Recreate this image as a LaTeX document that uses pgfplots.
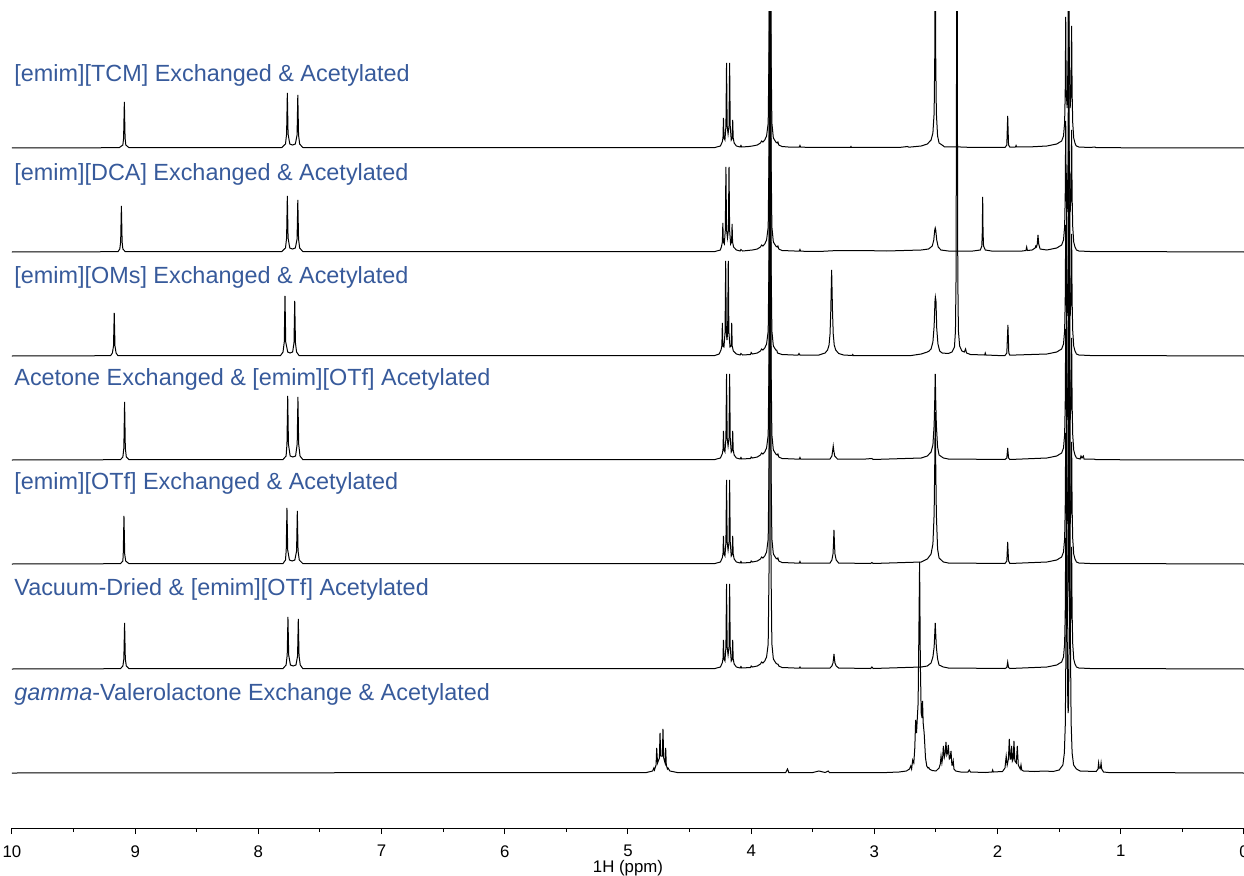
\documentclass[border=0pt]{standalone}
\usepackage{fontspec}
\setmainfont{Liberation Sans}
\usepackage{pgfplots}
\usepackage{pgfplotstable}
\pgfplotsset{compat=1.18}
\definecolor{labelblue}{RGB}{55,90,155}

% relative peak heights in px above each baseline
\pgfplotstableread{
x y
10.0 0
9.13 0.3
9.10 3
9.094 10
9.088 46
9.082 10
9.076 3
9.05 0.3
7.81 0.5
7.78 4
7.771 14
7.765 55
7.759 14
7.745 4
7.723 3
7.700 4
7.686 13
7.680 53
7.674 13
7.665 4
7.64 0.5
4.30 0.3
4.25 2
4.235 6
4.229 10
4.225 30
4.221 10
4.213 8
4.205 22
4.200 85
4.195 22
4.1875 14
4.180 22
4.175 85
4.170 22
4.162 8
4.154 10
4.150 28
4.146 10
4.138 5
4.12 2
4.09 1
4.083 2.5
4.076 1
4.02 1.5
3.99 2
3.95 3
3.925 5
3.915 7
3.905 6
3.89 8
3.875 12
3.862 25
3.855 100
3.851 400
3.847 1200
3.843 400
3.839 100
3.832 25
3.82 10
3.80 6
3.79 5
3.783 6
3.776 3
3.75 1.5
3.70 1
3.61 0.8
3.604 2.5
3.598 0.8
3.40 0.5
3.195 0.5
3.19 1.5
3.185 0.5
2.80 0.5
2.73 1.5
2.72 0.8
2.62 2
2.57 4
2.54 8
2.525 15
2.515 35
2.510 90
2.506 400
2.502 90
2.497 35
2.487 12
2.475 5
2.445 2.5
2.43 1
2.30 1
2.20 0.5
1.94 0.5
1.925 3
1.918 32
1.911 3
1.90 0.8
1.855 1
1.85 2.5
1.845 1
1.75 1
1.60 2
1.52 4
1.48 7
1.465 12
1.456 25
1.451 55
1.447 131
1.443 55
1.435 40
1.428 90
1.423 250
1.418 90
1.411 40
1.404 55
1.399 122
1.395 55
1.390 25
1.382 10
1.372 5
1.366 3
1.36 2
1.34 1
1.25 0.5
1.21 1
1.20 0.3
0 0
}\tcm

\pgfplotstableread{
x y
10.0 0
9.14 0.3
9.125 3
9.118 10
9.112 46
9.106 10
9.10 3
9.08 0.3
7.81 0.5
7.78 4
7.771 14
7.765 56
7.759 14
7.745 4
7.723 3
7.700 4
7.686 13
7.680 52
7.674 13
7.665 4
7.64 0.5
4.30 0.3
4.25 2
4.24 6
4.234 10
4.230 29
4.226 10
4.218 8
4.210 22
4.205 85
4.200 22
4.1925 14
4.185 22
4.180 85
4.175 22
4.167 8
4.159 10
4.155 28
4.151 10
4.143 5
4.12 2
4.09 1
4.083 2.5
4.07 1
3.99 2
3.95 3
3.925 5
3.915 7
3.905 6
3.89 8
3.875 12
3.862 25
3.855 100
3.851 400
3.847 1200
3.843 400
3.839 100
3.832 25
3.82 10
3.80 6
3.79 5
3.783 6
3.776 3
3.75 1.5
3.61 0.8
3.604 2.5
3.598 0.8
3.45 0.5
3.30 1.5
3.10 1.5
2.90 1
2.62 2
2.56 3
2.53 6
2.518 12
2.510 22
2.506 24
2.502 22
2.494 12
2.482 5
2.46 2
2.40 1
2.20 1
2.14 2
2.128 6
2.124 20
2.121 55
2.118 20
2.114 6
2.10 2
2.05 1
1.80 1
1.770 1.5
1.764 5
1.758 1.5
1.72 2
1.695 4
1.690 6
1.684 5
1.678 8
1.672 17
1.666 8
1.655 3
1.60 2
1.52 4
1.48 7
1.465 12
1.456 25
1.451 55
1.447 131
1.443 55
1.435 40
1.428 90
1.423 250
1.418 90
1.411 40
1.404 55
1.399 122
1.395 55
1.390 25
1.382 10
1.372 5
1.36 2
1.34 1
1.25 0.5
0 0
}\dca

\pgfplotstableread{
x y
10.0 0
9.20 0.3
9.185 3
9.176 10
9.170 43
9.164 10
9.155 3
9.14 0.3
7.82 0.5
7.80 4
7.790 14
7.784 60
7.778 14
7.762 4
7.743 3
7.722 4
7.711 13
7.705 55
7.699 13
7.690 4
7.67 0.5
4.30 0.3
4.26 2
4.245 6
4.238 10
4.234 33
4.230 10
4.221 9
4.212 24
4.207 95
4.202 24
4.1965 16
4.191 24
4.186 95
4.181 24
4.172 9
4.162 10
4.158 33
4.154 10
4.145 5
4.12 2
4.09 1
4.083 2.5
4.07 1
4.005 1.5
4.00 3.5
3.99 2
3.95 3
3.925 5
3.915 7
3.905 6
3.89 8
3.875 12
3.862 25
3.855 100
3.851 400
3.847 1200
3.843 400
3.839 100
3.832 25
3.82 10
3.80 6
3.793 6
3.786 3
3.75 1.5
3.62 0.8
3.612 2.5
3.604 0.8
3.45 1
3.40 3
3.38 6
3.368 11
3.360 22
3.354 45
3.347 86
3.340 45
3.334 22
3.326 11
3.314 6
3.29 2.5
3.25 1
3.18 0.5
3.176 1.5
3.17 0.5
2.70 0.5
2.62 2
2.57 4
2.555 5
2.549 6
2.54 7
2.525 14
2.515 30
2.508 55
2.505 59
2.500 55
2.494 28
2.484 12
2.47 5
2.45 3
2.40 2.5
2.37 4
2.35 9
2.342 25
2.337 80
2.333 300
2.330 800
2.327 300
2.323 80
2.318 25
2.308 10
2.29 5
2.27 4
2.260 7
2.252 3
2.22 1.5
2.105 1
2.10 3
2.095 1
2.00 0.5
1.94 0.5
1.925 3
1.916 31
1.909 3
1.90 0.8
1.60 2
1.52 4
1.48 7
1.465 12
1.456 25
1.451 55
1.447 131
1.443 55
1.435 40
1.428 90
1.423 250
1.418 90
1.411 40
1.404 55
1.399 122
1.395 55
1.390 25
1.382 10
1.372 5
1.36 2
1.34 1
1.25 0.5
0 0
}\oms

\pgfplotstableread{
x y
10.0 0
9.12 0.3
9.10 3
9.092 12
9.086 58
9.080 12
9.072 3
9.05 0.3
7.80 0.5
7.775 4
7.768 16
7.762 64
7.756 16
7.742 4
7.720 3
7.698 4
7.685 16
7.679 63
7.673 16
7.662 4
7.64 0.5
4.30 0.3
4.25 2
4.235 6
4.229 10
4.225 29
4.221 10
4.213 8
4.205 22
4.200 86
4.195 22
4.1875 14
4.180 22
4.175 86
4.170 22
4.162 8
4.154 10
4.150 29
4.146 10
4.138 5
4.12 2
4.09 1
4.083 2.5
4.076 1
4.005 1.5
4.00 3
3.99 2
3.95 3
3.925 5
3.915 7
3.905 6
3.89 8
3.875 12
3.862 25
3.855 100
3.851 400
3.847 1200
3.843 400
3.839 100
3.832 25
3.82 10
3.80 6
3.79 5
3.783 6
3.776 3
3.75 1.5
3.61 0.8
3.604 2.5
3.598 0.8
3.36 1
3.345 4
3.339 9
3.334 14
3.329 9
3.322 4
3.30 1
3.07 1
3.02 1.5
3.01 0.5
2.62 2
2.57 4
2.54 8
2.525 15
2.515 35
2.510 60
2.506 86
2.502 60
2.497 35
2.487 13
2.475 5
2.44 2
2.40 1
1.94 0.5
1.925 2
1.918 12
1.911 2
1.90 0.5
1.60 2
1.52 4
1.48 7
1.465 12
1.456 25
1.451 55
1.447 131
1.443 55
1.435 40
1.428 90
1.423 250
1.418 90
1.411 40
1.404 55
1.399 122
1.395 55
1.390 25
1.382 10
1.372 5
1.36 2
1.33 1
1.323 4
1.315 2
1.304 4
1.298 1
1.22 1
1.20 0.3
0 0
}\ace

\pgfplotstableread{
x y
10.0 0
9.12 0.3
9.10 3
9.097 10
9.091 48
9.085 10
9.077 3
9.05 0.3
7.80 0.5
7.78 4
7.774 14
7.768 56
7.762 14
7.748 4
7.726 3
7.704 4
7.690 13
7.684 53
7.678 13
7.668 4
7.64 0.5
4.30 0.3
4.25 2
4.235 6
4.229 10
4.225 28
4.221 10
4.213 8
4.205 22
4.200 84
4.195 22
4.1875 14
4.180 22
4.175 84
4.170 22
4.162 8
4.154 10
4.150 28
4.146 10
4.138 5
4.12 2
4.09 1
4.083 2.5
4.076 1
4.005 1.5
4.00 3
3.99 2
3.95 3
3.925 5
3.915 7
3.905 6
3.89 8
3.875 12
3.862 25
3.855 100
3.851 400
3.847 1200
3.843 400
3.839 100
3.832 25
3.82 10
3.80 6
3.79 5
3.783 6
3.776 3
3.75 1.5
3.61 0.8
3.604 2.5
3.598 0.8
3.36 1
3.345 4
3.336 10
3.332 20
3.328 34
3.324 20
3.320 10
3.31 4
3.29 1
3.03 0.5
3.02 1.5
3.01 0.5
2.62 2
2.57 5
2.54 10
2.525 20
2.515 50
2.510 100
2.506 152
2.502 100
2.497 50
2.487 15
2.475 6
2.44 2
2.40 1
1.94 0.5
1.925 3
1.918 22
1.911 3
1.90 0.5
1.60 2
1.52 4
1.48 7
1.465 12
1.456 25
1.451 55
1.447 131
1.443 55
1.435 40
1.428 90
1.423 250
1.418 90
1.411 40
1.404 55
1.399 122
1.395 55
1.390 25
1.382 10
1.372 5
1.36 2
1.34 1
1.25 0.5
0 0
}\otf

\pgfplotstableread{
x y
10.0 0
9.12 0.3
9.10 3
9.092 10
9.086 46
9.080 10
9.072 3
9.05 0.3
7.80 0.5
7.775 4
7.766 14
7.760 52
7.754 14
7.740 4
7.718 3
7.695 4
7.682 13
7.676 50
7.670 13
7.660 4
7.64 0.5
4.30 0.3
4.25 2
4.235 6
4.229 10
4.225 29
4.221 10
4.213 8
4.205 22
4.200 85
4.195 22
4.1875 14
4.180 22
4.175 85
4.170 22
4.162 8
4.154 10
4.150 29
4.146 10
4.138 5
4.12 2
4.09 1
4.083 2.5
4.076 1
4.005 1.5
4.00 3
3.99 2
3.95 3
3.925 5
3.915 7
3.905 6
3.89 8
3.875 12
3.862 25
3.855 100
3.851 400
3.847 1200
3.843 400
3.839 100
3.832 25
3.82 10
3.80 6
3.79 5
3.783 5
3.776 3
3.75 1.5
3.61 0.8
3.604 2
3.598 0.8
3.36 1
3.345 3
3.336 6
3.332 10
3.328 15
3.324 10
3.320 6
3.31 3
3.29 1
3.03 0.5
3.02 2
3.01 0.5
2.62 2
2.57 3
2.54 6
2.525 12
2.515 22
2.510 35
2.506 46
2.502 35
2.497 22
2.487 10
2.475 4
2.44 2
2.40 1
1.94 0.5
1.925 1.5
1.918 7
1.911 1.5
1.90 0.5
1.60 2
1.52 4
1.48 7
1.465 12
1.456 25
1.451 55
1.447 131
1.443 55
1.435 40
1.428 90
1.423 250
1.418 90
1.411 40
1.404 55
1.399 122
1.395 55
1.390 25
1.382 10
1.372 5
1.36 2
1.34 1
1.25 0.5
0 0
}\vac

\pgfplotstableread{
x y
10.0 0
4.85 0.5
4.80 2
4.79 5
4.785 3
4.772 8
4.767 25
4.760 10
4.745 15
4.740 40
4.734 17
4.721 17
4.716 44
4.710 15
4.699 10
4.694 25
4.689 8
4.680 4
4.675 5
4.66 2
4.60 0.5
3.72 0.5
3.705 4
3.695 0.5
3.50 0.5
3.45 2
3.40 0.5
3.375 2
3.365 0.5
2.90 0.5
2.80 1
2.74 2
2.715 4
2.705 7
2.698 4
2.689 13
2.680 10
2.672 25
2.665 53
2.658 40
2.645 70
2.638 150
2.633 211
2.627 110
2.620 60
2.613 55
2.609 72
2.604 50
2.596 40
2.585 15
2.575 7
2.565 5
2.559 5.5
2.553 4
2.54 3
2.53 2.5
2.50 2
2.475 5
2.465 9
2.459 17
2.452 10
2.446 15
2.440 27
2.432 16
2.425 20
2.419 31
2.412 18
2.406 20
2.400 28
2.392 14
2.385 15
2.378 22
2.371 8
2.366 8
2.360 12
2.354 4
2.34 2
2.30 1
2.24 1
2.23 3
2.22 1
2.10 0.5
2.045 1
2.04 3
2.035 1
1.96 1.5
1.94 5
1.930 17
1.922 8
1.912 14
1.905 34
1.898 14
1.892 14
1.886 27
1.880 12
1.873 14
1.867 32
1.860 12
1.848 10
1.840 27
1.832 8
1.816 4
1.810 8
1.804 3
1.79 2
1.70 1.5
1.62 2
1.55 1.5
1.50 3
1.47 8
1.458 20
1.450 50
1.444 150
1.440 600
1.436 150
1.430 70
1.427 60
1.424 70
1.418 150
1.414 600
1.410 150
1.403 50
1.395 20
1.383 8
1.36 4
1.33 2
1.20 1.5
1.185 4
1.180 10
1.175 5
1.165 5
1.160 10
1.155 4
1.14 1
1.10 0.5
0 0
}\gvl

\begin{document}
\begin{tikzpicture}
\begin{axis}[
  scale only axis,
  width=616pt, height=408pt,
  xmin=0, xmax=10, ymin=0, ymax=816,
  x dir=reverse,
  axis x line*=bottom,
  axis y line=none,
  ytick=\empty,
  xtick={0,1,...,10},
  minor x tick num=1,
  tick align=outside,
  major tick length=3pt,
  minor tick length=2pt,
  axis line style={line width=0.5pt},
  every tick/.style={black, line width=0.5pt},
  /pgf/number format/assume math mode=true,
  xticklabel style={font=\fontsize{8.4}{10}\selectfont, inner sep=0pt, yshift=-5.5pt},
  xlabel={1H (ppm)},
  xlabel style={font=\fontsize{8.4}{10}\selectfont, at={(rel axis cs:0.5,0)}, anchor=center, yshift=-20.2pt},
  clip=true,
]
\addplot[black, solid, line width=0.5pt, no markers] table[y expr=\thisrowno{1}+680] {\tcm};
\addplot[black, solid, line width=0.5pt, no markers] table[y expr=\thisrowno{1}+576] {\dca};
\addplot[black, solid, line width=0.5pt, no markers] table[y expr=\thisrowno{1}+472] {\oms};
\addplot[black, solid, line width=0.5pt, no markers] table[y expr=\thisrowno{1}+368] {\ace};
\addplot[black, solid, line width=0.5pt, no markers] table[y expr=\thisrowno{1}+264] {\otf};
\addplot[black, solid, line width=0.5pt, no markers] table[y expr=\thisrowno{1}+159] {\vac};
\addplot[black, solid, line width=0.5pt, no markers] table[y expr=\thisrowno{1}+55] {\gvl};

\coordinate (bl) at (rel axis cs:0,0);
\coordinate (tr) at (rel axis cs:1,1);
\end{axis}
\begin{scope}[every node/.style={anchor=base west, inner sep=0pt, text=labelblue, font=\fontsize{11.7}{14}\selectfont}]
\path (bl) ++(1pt,373pt) node {[emim][TCM] Exchanged \& Acetylated};
\path (bl) ++(1pt,323.5pt) node {[emim][DCA] Exchanged \& Acetylated};
\path (bl) ++(1pt,272pt) node {[emim][OMs] Exchanged \& Acetylated};
\path (bl) ++(1pt,221.5pt) node {Acetone Exchanged \& [emim][OTf] Acetylated};
\path (bl) ++(1pt,169pt) node {[emim][OTf] Exchanged \& Acetylated};
\path (bl) ++(1pt,116.5pt) node {Vacuum-Dried \& [emim][OTf] Acetylated};
\path (bl) ++(1pt,64pt) node {\textit{gamma}-Valerolactone Exchange \& Acetylated};
\end{scope}
\pgfresetboundingbox
\path ([xshift=-6pt,yshift=-23.5pt]bl) rectangle ([yshift=6pt]tr);
\end{tikzpicture}
\end{document}
